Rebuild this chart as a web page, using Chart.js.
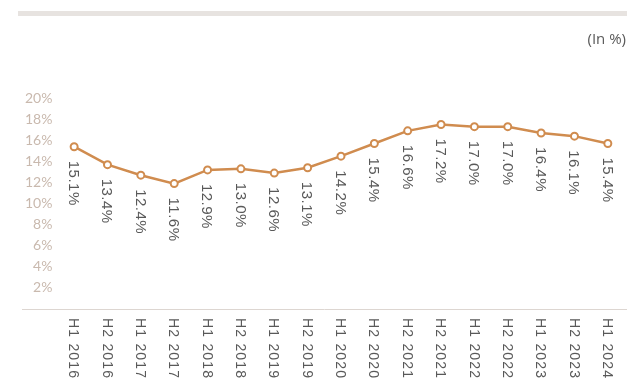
<!DOCTYPE html>
<html>
<head>
<meta charset="utf-8">
<script src="https://cdn.jsdelivr.net/npm/chart.js@4.4.1/dist/chart.umd.min.js"></script>
<style>
  html, body { margin: 0; padding: 0; background: #fff; }
  #chartCanvas { display: block; }
</style>
</head>
<body>
<canvas id="chartCanvas" width="627" height="379"></canvas>
<script>
// Half-year periods and the share for each (in %)
var periods = ['H1 2016', 'H2 2016', 'H1 2017', 'H2 2017', 'H1 2018', 'H2 2018',
  'H1 2019', 'H2 2019', 'H1 2020', 'H2 2020', 'H2 2021', 'H2 2021', 'H1 2022',
  'H2 2022', 'H1 2023', 'H2 2023', 'H1 2024'];
var shares = [15.1, 13.4, 12.4, 11.6, 12.9, 13.0, 12.6, 13.1, 14.2, 15.4, 16.6,
  17.2, 17.0, 17.0, 16.4, 16.1, 15.4];
var yTicks = [2, 4, 6, 8, 10, 12, 14, 16, 18, 20];

var lineColor = '#d08c4f';
var textGrey = '#595959';

// Header band, unit note, baseline, rotated value and period labels
var decorations = {
  id: 'decorations',
  beforeDraw: function (chart) {
    var ctx = chart.ctx;
    ctx.save();
    ctx.fillStyle = '#e7e3e0';
    ctx.fillRect(18, 11, 609, 5);

    ctx.fillStyle = textGrey;
    ctx.font = '15px "Open Sans", sans-serif';
    ctx.textAlign = 'right';
    ctx.textBaseline = 'middle';
    ctx.fillText('(In %)', 626, 40);

    ctx.strokeStyle = '#ddd6d1';
    ctx.lineWidth = 1;
    ctx.beginPath();
    ctx.moveTo(22, 309.5);
    ctx.lineTo(627, 309.5);
    ctx.stroke();

    // period labels, reading top to bottom
    var xScale = chart.scales.x;
    ctx.font = '14px "Liberation Sans", Arial, sans-serif';
    ctx.letterSpacing = '1.2px';
    ctx.textAlign = 'left';
    periods.forEach(function (p, i) {
      ctx.save();
      ctx.translate(xScale.getPixelForValue(i) - 1, 318);
      ctx.rotate(Math.PI / 2);
      ctx.fillText(p, 0, 0);
      ctx.restore();
    });
    ctx.restore();
  },
  afterDatasetsDraw: function (chart) {
    var ctx = chart.ctx;
    var meta = chart.getDatasetMeta(0);
    ctx.save();
    ctx.fillStyle = textGrey;
    ctx.font = '15px "Liberation Sans", Arial, sans-serif';
    ctx.letterSpacing = '0.5px';
    ctx.textAlign = 'left';
    ctx.textBaseline = 'middle';
    meta.data.forEach(function (pt, i) {
      ctx.save();
      ctx.translate(pt.x - 1, pt.y + 14);
      ctx.rotate(Math.PI / 2);
      ctx.fillText(shares[i].toFixed(1) + '%', 0, 0);
      ctx.restore();
    });
    ctx.restore();
  }
};

var ctx = document.getElementById('chartCanvas').getContext('2d');

var chart = new Chart(ctx, {
  type: 'line',
  data: {
    labels: periods,
    datasets: [{
      data: shares,
      borderColor: lineColor,
      borderWidth: 2.5,
      pointRadius: 3.5,
      pointBorderWidth: 2,
      pointBorderColor: lineColor,
      pointBackgroundColor: '#fff',
      tension: 0,
      fill: false
    }]
  },
  options: {
    responsive: false,
    animation: false,
    layout: {
      autoPadding: false,
      padding: { left: 20, right: 2.5, top: 95, bottom: 73 }
    },
    plugins: {
      legend: { display: false },
      tooltip: { enabled: false }
    },
    scales: {
      x: {
        display: false,
        offset: true
      },
      y: {
        min: 0,
        max: 20,
        afterBuildTicks: function (scale) {
          scale.ticks = yTicks.map(function (v) { return { value: v }; });
        },
        grid: { display: false, drawTicks: false },
        border: { display: false },
        ticks: {
          padding: 5,
          labelOffset: 3,
          color: '#c9b9ae',
          font: { family: 'Lato', size: 14 },
          callback: function (v) { return v + '%'; }
        }
      }
    }
  },
  plugins: [decorations]
});
</script>
</body>
</html>
